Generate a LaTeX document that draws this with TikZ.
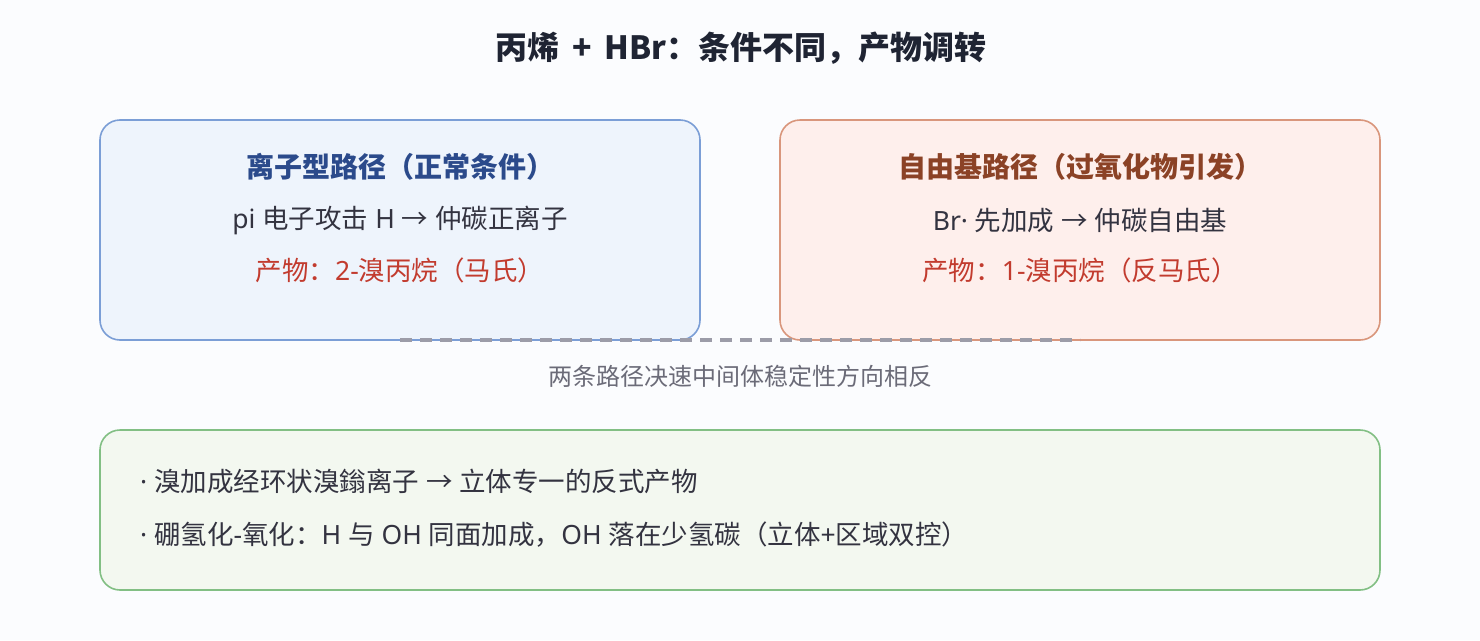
\documentclass[tikz,border=0pt]{standalone}
\usepackage{fontspec}
\setmainfont{Noto Sans CJK SC}
\newfontfamily\lat{Noto Sans}
\definecolor{bgc}{HTML}{FBFCFE}
\definecolor{titlec}{HTML}{1F2433}
\definecolor{bluefill}{HTML}{EEF4FC}
\definecolor{blueline}{HTML}{7B9ED6}
\definecolor{bluehead}{HTML}{2B4A8B}
\definecolor{redfill}{HTML}{FEEFEC}
\definecolor{redline}{HTML}{D9967C}
\definecolor{redhead}{HTML}{8B4226}
\definecolor{greenfill}{HTML}{F3F8F0}
\definecolor{greenline}{HTML}{82BF84}
\definecolor{bodyc}{HTML}{333340}
\definecolor{prodc}{HTML}{C23B2E}
\definecolor{capc}{HTML}{6B6B78}
\definecolor{dashc}{HTML}{9C9CA8}
\tikzset{
  panel/.style={draw, line width=1.6pt, rounded corners=20pt, inner sep=0pt, outer sep=0pt},
  headtxt/.style={font=\fontsize{28}{32}\selectfont\bfseries, inner sep=0pt},
  bodytxt/.style={font=\fontsize{26.5}{30}\selectfont, text=bodyc, inner sep=0pt},
  prodtxt/.style={font=\fontsize{26.5}{30}\selectfont, text=prodc, inner sep=0pt},
  captxt/.style={font=\fontsize{24}{28}\selectfont, text=capc, inner sep=0pt},
  linktxt/.style={draw=dashc, line width=4pt, dash pattern=on 12pt off 8pt}
}
\begin{document}
\begin{tikzpicture}[x=1pt,y=-1pt]
\fill[bgc] (0,0) rectangle (1480,640);
\useasboundingbox (0,0) rectangle (1480,640);
% title
\node[font=\fontsize{32}{36}\selectfont\bfseries, text=titlec, inner sep=0pt] (title) at (741,48) {丙烯\hspace{0.4em}+\hspace{0.4em}HBr：条件不同，产物调转};
% boxes
\node[panel, draw=blueline, fill=bluefill, minimum width=600pt, minimum height=220pt] (left) at (400,230) {};
\node[panel, draw=redline, fill=redfill, minimum width=600pt, minimum height=220pt] (right) at (1080,230) {};
\node[panel, draw=greenline, fill=greenfill, minimum width=1280pt, minimum height=160pt] (bottom) at (740,510) {};
% left texts
\node[headtxt, text=bluehead] (lh) at (400,167) {离子型路径（正常条件）};
\node[bodytxt] (lb) at (400,220) {{\lat pi }电子攻击{\lat{} H }→{\lat{} }仲碳正离子};
\node[prodtxt] (lp) at (400,270) {产物：{\lat 2-}溴丙烷（马氏）};
% right texts
\node[headtxt, text=redhead] (rh) at (1080,167) {自由基路径（过氧化物引发）};
\node[bodytxt] (rb) at (1080,220) {{\lat Br· }先加成{\lat{} }→{\lat{} }仲碳自由基};
\node[prodtxt] (rp) at (1080,270) {产物：{\lat 1-}溴丙烷（反马氏）};
% link
\draw[linktxt] (left.south) -- (right.south);
\node[captxt] (cap) at (740,376) {两条路径决速中间体稳定性方向相反};
% bottom texts
\node[bodytxt, anchor=west] (b1) at (140,481) {{\lat · }溴加成经环状溴鎓离子{\lat{} }→{\lat{} }立体专一的反式产物};
\node[bodytxt, anchor=west] (b2) at (140,535) {{\lat · }硼氢化{\lat -}氧化：{\lat H }与{\lat{} OH }同面加成，{\lat OH }落在少氢碳（立体{\lat +}区域双控）};
\end{tikzpicture}
\end{document}
